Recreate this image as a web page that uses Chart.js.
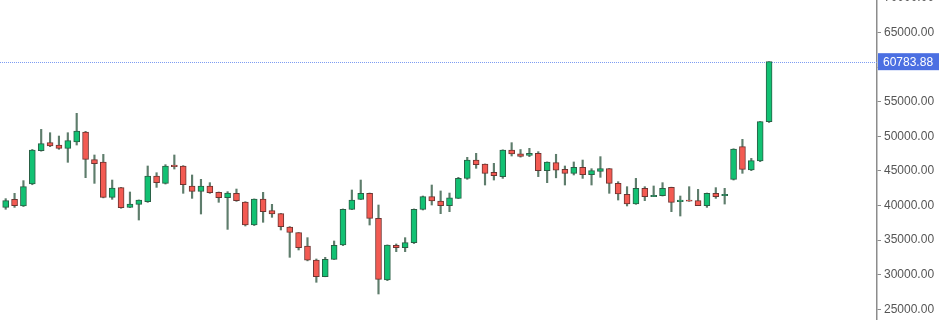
<!DOCTYPE html>
<html><head><meta charset="utf-8">
<script src="https://cdn.jsdelivr.net/npm/chart.js@4.4.1/dist/chart.umd.min.js"></script>
<style>
html,body{margin:0;padding:0;background:#fff;overflow:hidden;width:940px;height:320px}
#wrap{position:absolute;left:0;top:-20px;width:940px;height:360px}
</style></head><body>
<div id="wrap"><canvas id="c" width="940" height="360"></canvas></div>
<script>
const periods = Array.from({length: 87}, (_, i) => 'P' + (i + 1));
const opens  = [39730,40890,39930,43100,47920,49080,48740,48260,49180,50620,46620,46290,41180,42580,39730,40170,40550,44260,43200,45850,
                45710,42820,42050,42820,41900,41130,41760,40500,37180,40940,39250,38820,36890,36070,34150,32120,29720,32220,34290,39450,
                40890,41760,38140,29230,34240,33900,34630,39450,41280,40650,39980,41030,43920,46570,46000,44790,44170,48020,47470,47250,
                47540,45030,46200,45230,44650,45510,44450,44940,45320,43200,41610,40220,42480,41280,41420,42620,40550,40790,40700,39980,
                41760,41420,43780,48500,45130,46430,52110];
const highs  = [40990,41760,43590,48100,51000,50520,50040,50520,53320,50720,47300,47390,43680,42620,41950,40800,45710,44740,45900,47300,
                45760,44410,43780,43300,41950,42000,42380,40550,40950,41900,40170,38850,36950,36100,35350,32270,32510,34870,39500,42240,
                43680,41800,40070,34300,34440,35350,39500,41370,42960,42100,41800,44070,46960,47540,46000,46090,48050,49080,48090,48260,
                47780,46300,47400,45710,46290,46570,45320,47060,45350,43440,42720,43920,42720,42820,43300,42650,41370,42720,42330,41800,
                42580,42480,48200,49560,46810,52150,60783.88];
const lows   = [39450,39730,39850,43000,47850,48500,48120,46240,48740,44020,43200,41100,40890,39600,39700,37900,40450,42620,43100,45270,
                41760,41030,38770,41760,40460,36550,40600,37040,37100,37570,38290,36460,32510,33570,32000,28900,29700,32200,34200,39400,
                40850,37180,27210,29140,33330,33330,34500,39350,40070,38820,39110,41000,43780,45370,42960,43680,43920,47150,46990,47060,
                44170,43300,44000,42960,44410,43920,42960,44070,41760,40790,39930,40170,40700,41280,41370,39110,38480,40600,39970,39730,
                41030,40210,43680,44650,45030,46330,52000];
const closes = [40700,39980,42720,48020,48940,48600,48260,49370,50770,46670,46050,41180,42530,39690,40220,40790,44260,43300,45710,45610,
                43010,42050,42820,41850,41130,41800,40700,37180,40940,39110,38770,36940,36120,33900,32080,29720,32220,34240,39450,40790,
                41760,38140,29330,34290,33900,34630,39450,41280,40650,39980,41100,43920,46570,45900,44650,44310,48020,47440,47080,47540,
                45030,46290,45100,44650,45510,44450,45030,45320,43200,41660,40220,42480,41280,41470,42480,40460,40790,40620,39980,41760,
                41280,41610,48160,45220,46480,52110,60783.88];
const yTickValues = [25000,30000,35000,40000,45000,50000,55000,60000,65000,70000];

const UP = '#12c173', DOWN = '#f35a52', UP_EDGE = '#2a5f45', DOWN_EDGE = '#6e3431', WICK = '#5e7d6c';
const lastPrice = closes[closes.length - 1];
const isUp = i => closes[i] >= opens[i];

const bodyData = periods.map((p, i) => ({x: i, y: [opens[i], closes[i]]}));
const wickData = periods.map((p, i) => ({x: i, y: [lows[i], highs[i]]}));

const lastPricePlugin = {
  id: 'lastPrice',
  beforeDatasetsDraw(chart) {
    const {ctx, chartArea, scales} = chart;
    const y = Math.round(scales.y.getPixelForValue(lastPrice)) + 0.5;
    ctx.save();
    ctx.strokeStyle = '#7d9cf3';
    ctx.lineWidth = 1;
    ctx.setLineDash([1, 1]);
    ctx.beginPath();
    ctx.moveTo(chartArea.left, y);
    ctx.lineTo(chartArea.right, y);
    ctx.stroke();
    ctx.restore();
  },
  afterDraw(chart) {
    const {ctx, chartArea, scales} = chart;
    const y = scales.y.getPixelForValue(lastPrice);
    ctx.save();
    ctx.fillStyle = '#4b6fe2';
    ctx.fillRect(chartArea.right + 1, y - 8.5, 61, 17);
    ctx.fillStyle = '#ffffff';
    ctx.font = '12px "Liberation Sans", Arial, sans-serif';
    ctx.textBaseline = 'middle';
    ctx.textAlign = 'left';
    ctx.fillText(lastPrice.toFixed(2), chartArea.right + 6, y + 0.5);
    ctx.restore();
  }
};

new Chart(document.getElementById('c'), {
  type: 'bar',
  data: {
    datasets: [
      {
        data: bodyData,
        backgroundColor: c => isUp(c.dataIndex) ? UP : DOWN,
        borderColor: c => isUp(c.dataIndex) ? UP_EDGE : DOWN_EDGE,
        borderWidth: 1,
        borderSkipped: false,
        barThickness: 6,
        grouped: false,
        order: 0
      },
      {
        data: wickData,
        backgroundColor: WICK,
        borderWidth: 0,
        barThickness: 1.5,
        grouped: false,
        order: 1
      }
    ]
  },
  options: {
    responsive: false,
    animation: false,
    devicePixelRatio: 1,
    layout: {padding: 0},
    plugins: {legend: {display: false}, tooltip: {enabled: false}},
    scales: {
      x: {type: 'linear', display: false, offset: false, min: -0.64, max: 98.16, grid: {offset: false}},
      y: {
        position: 'right',
        min: 20560,
        max: 72590,
        afterBuildTicks: s => { s.ticks = yTickValues.map(v => ({value: v})); },
        afterFit: s => { s.width = 63; s.paddingTop = 0; s.paddingBottom = 0; },
        ticks: {
          callback: v => Number(v).toFixed(2),
          color: '#555555',
          padding: 3,
          font: {family: '"Liberation Sans", Arial, sans-serif', size: 12}
        },
        grid: {drawOnChartArea: false, drawTicks: true, tickLength: 4, color: '#8c8c8c', lineWidth: 1},
        border: {display: true, color: '#8c8c8c', width: 1.5}
      }
    }
  },
  plugins: [lastPricePlugin]
});
</script>
</body></html>
